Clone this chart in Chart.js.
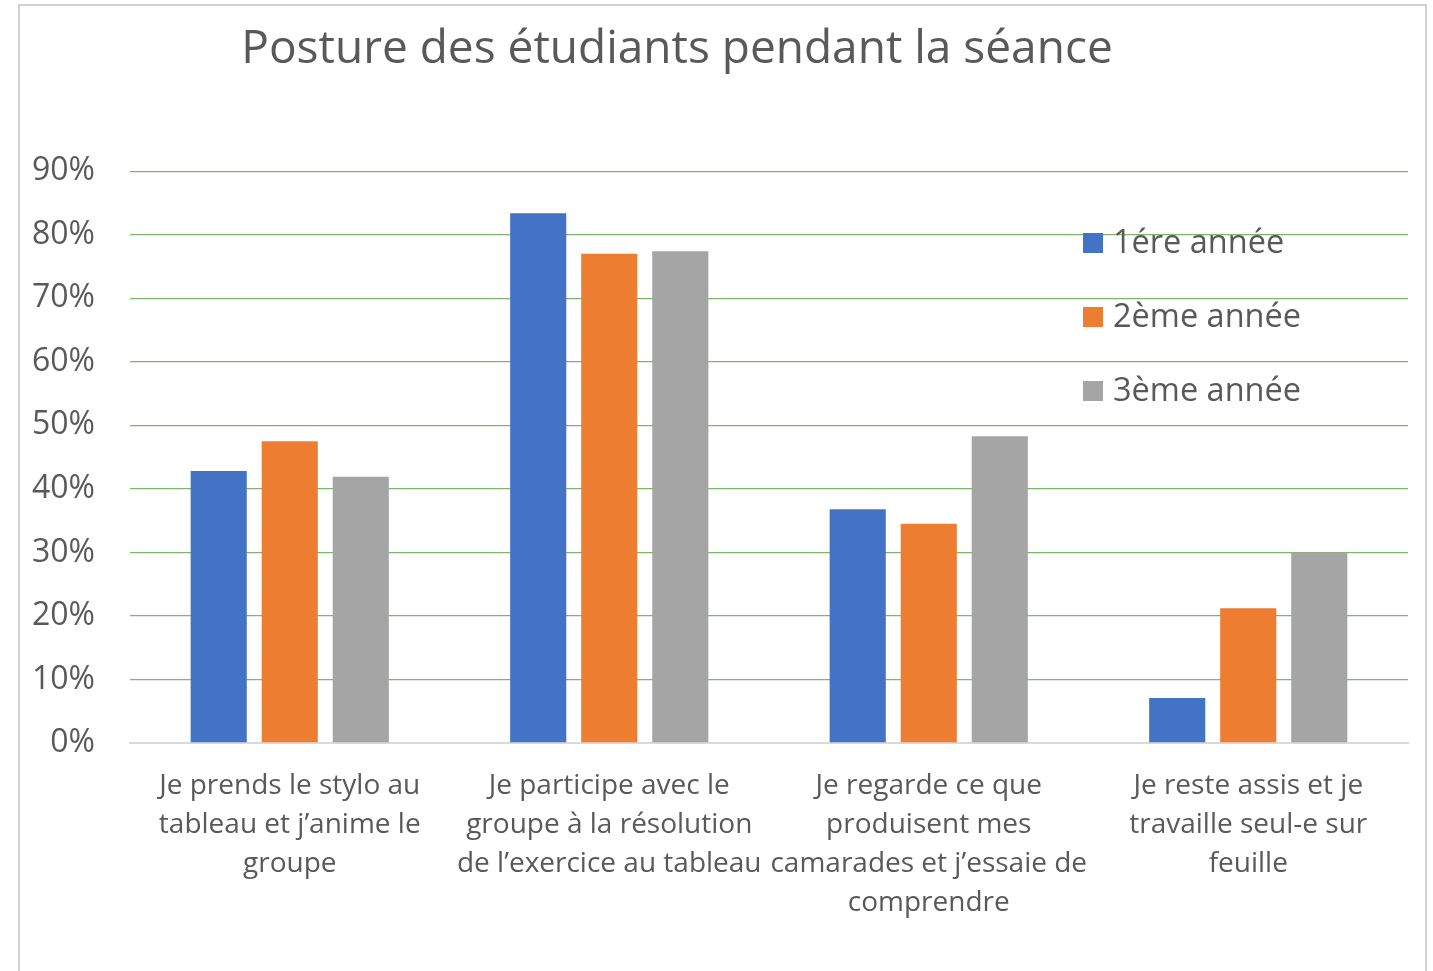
<!DOCTYPE html>
<html>
<head>
<meta charset="utf-8">
<script src="https://cdn.jsdelivr.net/npm/chart.js@4"></script>
<style>
  html, body { margin: 0; padding: 0; background: #fff; }
  #wrap { position: relative; width: 1433px; height: 971px; }
  #frame { position: absolute; left: 18px; top: 4px; width: 1409px; height: 980px; border: 2px solid #d0d0d0; box-sizing: border-box; }
  canvas { position: absolute; left: 0; top: 0; }
</style>
</head>
<body>
<div id="wrap">
  <div id="frame"></div>
  <canvas id="chart" width="1433" height="971"></canvas>
</div>
<script>
// Chart data
const categories = [
  ['Je prends le stylo au', 'tableau et j’anime le', 'groupe'],
  ['Je participe avec le', 'groupe à la résolution', 'de l’exercice au tableau'],
  ['Je regarde ce que', 'produisent mes', 'camarades et j’essaie de', 'comprendre'],
  ['Je reste assis et je', 'travaille seul-e sur', 'feuille']
];
const seriesNames = ['1ére année', '2ème année', '3ème année'];
const annee1 = [0.428, 0.834, 0.368, 0.071];
const annee2 = [0.475, 0.770, 0.345, 0.212];
const annee3 = [0.419, 0.774, 0.483, 0.300];
const seriesColors = ['#4472C4', '#ED7D31', '#A5A5A5'];

const FONT = "'Open Sans', sans-serif";
const TEXT = '#595959';

// Legend drawn inside the plot area, like the original
const innerLegend = {
  id: 'innerLegend',
  afterDraw(chart) {
    const ctx = chart.ctx;
    ctx.save();
    ctx.font = '32.5px ' + FONT;
    ctx.textBaseline = 'middle';
    chart.data.datasets.forEach((ds, i) => {
      const y = 243 + i * 74;
      ctx.fillStyle = ds.backgroundColor;
      ctx.fillRect(1083, y - 10, 20, 20);
      ctx.fillStyle = TEXT;
      ctx.fillText(ds.label, 1113, y + 1);
    });
    ctx.restore();
  }
};

const datasets = [annee1, annee2, annee3].map((vals, i) => ({
  label: seriesNames[i],
  data: vals,
  backgroundColor: seriesColors[i],
  categoryPercentage: 0.667,
  barPercentage: 0.79
}));

new Chart(document.getElementById('chart'), {
  type: 'bar',
  data: { labels: categories, datasets: datasets },
  options: {
    responsive: false,
    animation: false,
    layout: { padding: { left: -54, right: 25, top: 0, bottom: 0 } },
    plugins: {
      legend: { display: false },
      tooltip: { enabled: false },
      title: {
        display: true,
        text: 'Posture des étudiants pendant la séance',
        color: TEXT,
        font: { family: FONT, size: 46, weight: 'normal', lineHeight: 1.2 },
        padding: { top: 22, bottom: 94 }
      }
    },
    scales: {
      x: {
        grid: { display: false, drawTicks: false },
        border: { display: true, color: '#d9d9d9', width: 2 },
        ticks: {
          color: TEXT,
          font: { family: FONT, size: 28, lineHeight: 1.39 },
          padding: 24,
          autoSkip: false,
          maxRotation: 0,
          minRotation: 0
        },
        afterFit(scale) { scale.height = 228; }
      },
      y: {
        min: 0,
        max: 0.9,
        grid: { color: '#7fb46d', lineWidth: 1.3, drawTicks: false },
        border: { display: false },
        ticks: {
          stepSize: 0.1,
          color: TEXT,
          font: { family: FONT, size: 32 },
          padding: 35,
          callback: v => Math.round(v * 100) + '%'
        },
        afterFit(scale) { scale.width = 184; }
      }
    }
  },
  plugins: [innerLegend]
});
</script>
</body>
</html>
